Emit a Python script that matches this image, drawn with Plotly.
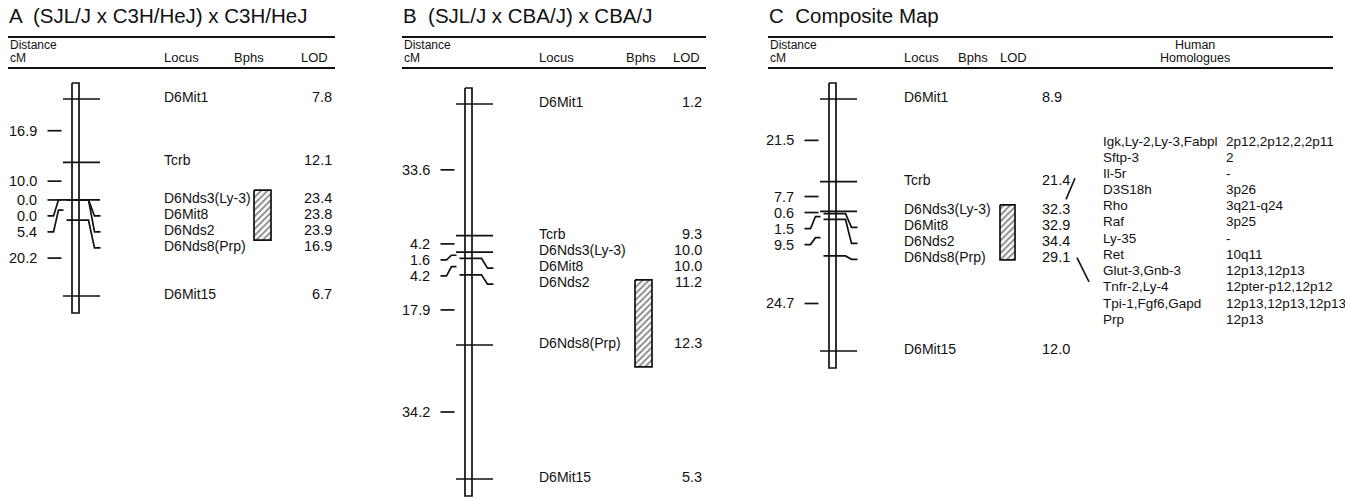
import numpy as np
import plotly.graph_objects as go

# ---------------- data ----------------
loci = ["D6Mit1", "Tcrb", "D6Nds3(Ly-3)", "D6Mit8", "D6Nds2", "D6Nds8(Prp)", "D6Mit15"]

A_dist = [16.9, 10.0, 0.0, 0.0, 5.4, 20.2]          # interval distances, cM
A_lod = [7.8, 12.1, 23.4, 23.8, 23.9, 16.9, 6.7]
A_bphs = [24.3, 37.6]                                # Bphs interval, cM

B_dist = [33.6, 4.2, 1.6, 4.2, 17.9, 34.2]
B_lod = [1.2, 9.3, 10.0, 10.0, 11.2, 12.3, 5.3]
B_bphs = [44.9, 67.1]

C_dist = [21.5, 7.7, 0.6, 1.5, 9.5, 24.7]
C_lod = [8.9, 21.4, 32.3, 32.9, 34.4, 29.1, 12.0]
C_bphs = [27.5, 41.8]

homolog_mouse = ["Igk,Ly-2,Ly-3,Fabpl", "Sftp-3", "Il-5r", "D3S18h", "Rho", "Raf", "Ly-35",
                 "Ret", "Glut-3,Gnb-3", "Tnfr-2,Ly-4", "Tpi-1,Fgf6,Gapd", "Prp"]
homolog_human = ["2p12,2p12,2,2p11", "2", "-", "3p26", "3q21-q24", "3p25", "-",
                 "10q11", "12p13,12p13", "12pter-p12,12p12", "12p13,12p13,12p13", "12p13"]

titles = ["A  (SJL/J x C3H/HeJ) x C3H/HeJ", "B  (SJL/J x CBA/J) x CBA/J", "C  Composite Map"]

# ---------------- layout / style ----------------
W, H = 1345, 500
FONT = "Liberation Sans, Arial, Helvetica, sans-serif"
INK = "#111111"
LW = 1.7
FS_LAB = 14
FS_NUM = 14.5

panels = [
    dict(dist=A_dist, lod=A_lod, bphs=A_bphs, title=titles[0], yaxis="y",
         x0=8, x1=335, cx=75.5, locus_x=163, bphs_x=(254, 271), lod_x=333, lod_anchor="right",
         top_px=99, bot_px=296, hdr=[("Locus", 163), ("Bphs", 233), ("LOD", 300)]),
    dict(dist=B_dist, lod=B_lod, bphs=B_bphs, title=titles[1], yaxis="y2",
         x0=402, x1=706, cx=468.5, locus_x=538, bphs_x=(635, 652), lod_x=703, lod_anchor="right",
         top_px=104, bot_px=479, hdr=[("Locus", 538), ("Bphs", 625), ("LOD", 672)]),
    dict(dist=C_dist, lod=C_lod, bphs=C_bphs, title=titles[2], yaxis="y3",
         x0=768, x1=1333, cx=832.5, locus_x=903, bphs_x=(1000, 1015), lod_x=1041, lod_anchor="left",
         top_px=99, bot_px=351, hdr=[("Locus", 903), ("Bphs", 957), ("LOD", 999)]),
]


def spread(vals, gap):
    out = []
    for v in vals:
        out.append(v if not out else max(v, out[-1] + gap))
    return np.array(out)


fig = go.Figure()
annotations = []
shapes = []


def line_trace(xs, ys, yaxis, width=LW):
    fig.add_trace(go.Scatter(x=xs, y=ys, mode="lines", yaxis=yaxis, hoverinfo="skip",
                             line=dict(color=INK, width=width), showlegend=False))


def ptext(x, ypx, text, size, anchor="left", xref="x"):
    annotations.append(dict(x=x, y=1 - ypx / H, xref=xref, yref="paper", text=text,
                            showarrow=False, xanchor=anchor, yanchor="middle", borderpad=0,
                            font=dict(family=FONT, size=size, color=INK)))


yaxes = {}
for p in panels:
    pos = np.concatenate([[0.0], np.cumsum(p["dist"])])
    k = (p["bot_px"] - p["top_px"]) / pos[-1]
    t0 = p["top_px"]
    tocm = lambda px, t0=t0, k=k: (np.asarray(px) - t0) / k
    px = t0 + pos * k
    yaxes[p["yaxis"]] = [(H - t0) / k, -t0 / k]
    ya = p["yaxis"]
    cx = p["cx"]

    # chromosome body
    ctop, cbot = tocm(px[0] - 16), tocm(px[-1] + 17)
    fig.add_trace(go.Scatter(x=[cx - 3.5, cx + 3.5, cx + 3.5, cx - 3.5, cx - 3.5],
                             y=[ctop, ctop, cbot, cbot, ctop], mode="lines", fill="toself",
                             fillcolor="white", yaxis=ya, hoverinfo="skip", showlegend=False,
                             line=dict(color=INK, width=LW)))

    # loci
    disp = spread(px, 16)
    for i, name in enumerate(loci):
        y_m = pos[i]
        if abs(disp[i] - px[i]) < 2:
            line_trace([cx - 12.5, cx + 24.5], [y_m, y_m], ya)
        else:
            yd = float(tocm(disp[i]))
            line_trace([cx - 9, cx + 13, cx + 19, cx + 25], [y_m, y_m, yd, yd], ya)
        yl = float(tocm(disp[i]))
        annotations.append(dict(x=p["locus_x"], y=yl, xref="x", yref=ya, text=name,
                                showarrow=False, xanchor="left", yanchor="middle", yshift=2,
                                borderpad=0, font=dict(family=FONT, size=FS_LAB, color=INK)))
        annotations.append(dict(x=p["lod_x"], y=yl, xref="x", yref=ya, text=f"{p['lod'][i]:.1f}",
                                showarrow=False, xanchor=p["lod_anchor"], yanchor="middle", yshift=2,
                                borderpad=0, font=dict(family=FONT, size=FS_NUM, color=INK)))

    # interval distances
    mids = (px[:-1] + px[1:]) / 2
    tdisp = spread(mids, 16)
    for j, d in enumerate(p["dist"]):
        ym = float(tocm(mids[j]))
        yd = float(tocm(tdisp[j]))
        if abs(tdisp[j] - mids[j]) < 2:
            line_trace([cx - 28, cx - 14], [yd, yd], ya)
        else:
            line_trace([cx - 28, cx - 22, cx - 17, cx - 12], [yd, yd, ym, ym], ya)
        annotations.append(dict(x=cx - 38, y=yd, xref="x", yref=ya, text=f"{d:.1f}",
                                showarrow=False, xanchor="right", yanchor="middle", borderpad=0,
                                font=dict(family=FONT, size=FS_NUM, color=INK)))

    # Bphs box
    bx0, bx1 = p["bphs_x"]
    b0, b1 = p["bphs"]
    fig.add_trace(go.Scatter(x=[bx0, bx1, bx1, bx0, bx0], y=[b0, b0, b1, b1, b0], mode="lines",
                             fill="toself", fillcolor="white", yaxis=ya, hoverinfo="skip",
                             showlegend=False, line=dict(color=INK, width=LW),
                             fillpattern=dict(shape="/", size=4.5, solidity=0.4,
                                              fgcolor=INK, bgcolor="white")))

    # title, rules, headers
    ptext(p["x0"], 15, p["title"], 20.5)
    for ry in (37, 68):
        shapes.append(dict(type="line", xref="x", yref="paper", x0=p["x0"], x1=p["x1"],
                           y0=1 - ry / H, y1=1 - ry / H, line=dict(color=INK, width=2)))
    ptext(p["x0"] + 1, 45, "Distance", 12)
    ptext(p["x0"] + 1, 58, "cM", 12)
    for lab, hx in p["hdr"]:
        ptext(hx, 58, lab, 13)

# human homologue table (panel C)
ptext(1195, 45, "Human", 12.5, anchor="center")
ptext(1195, 58, "Homologues", 12.5, anchor="center")
row0, rstep = 141, 16.2
for i, (m, h) in enumerate(zip(homolog_mouse, homolog_human)):
    ptext(1102, row0 + i * rstep, m, 13.5)
    ptext(1225, row0 + i * rstep, h, 13.5)


def row(r):
    return 1 - (row0 + r * rstep) / H


shapes.append(dict(type="line", xref="x", yref="paper", x0=1066, x1=1075, y0=row(3.6), y1=row(2.3),
                   line=dict(color=INK, width=1.6)))
shapes.append(dict(type="line", xref="x", yref="paper", x0=1077, x1=1089, y0=row(7.2), y1=row(8.7),
                   line=dict(color=INK, width=1.6)))

axis_common = dict(visible=False, showgrid=False, zeroline=False, fixedrange=True)
fig.update_layout(
    width=W, height=H, margin=dict(l=0, r=0, t=0, b=0),
    paper_bgcolor="white", plot_bgcolor="white", showlegend=False,
    xaxis=dict(range=[0, W], domain=[0, 1], **axis_common),
    yaxis=dict(range=yaxes["y"], domain=[0, 1], **axis_common),
    yaxis2=dict(range=yaxes["y2"], overlaying="y", **axis_common),
    yaxis3=dict(range=yaxes["y3"], overlaying="y", **axis_common),
    annotations=annotations, shapes=shapes,
)

fig.write_html("out.html", config={"displayModeBar": False, "staticPlot": True},
               post_script="document.body.style.margin='0';document.body.style.overflow='hidden';")
